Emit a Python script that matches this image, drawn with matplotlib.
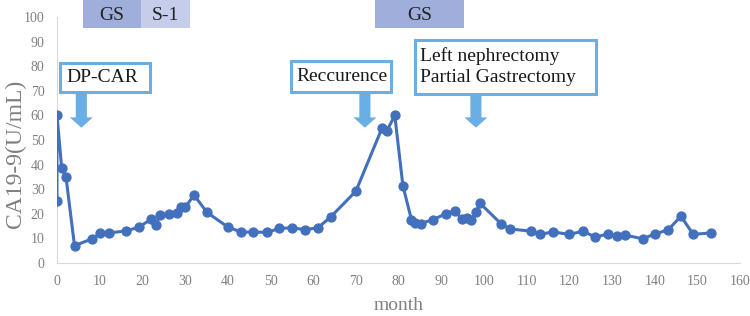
import numpy as np
import matplotlib.pyplot as plt
from matplotlib.patches import Rectangle, FancyArrow

plt.rcParams['font.family'] = ['Liberation Serif', 'DejaVu Serif']

# CA19-9 over time
months = [0, 0, 1.1, 2.1, 4.1, 8.2, 10.1, 12.1, 16.2, 19.1, 22.1, 23.2, 24.1, 26.2,
          28.2, 29.1, 30.0, 32.1, 35.1, 40.0, 43.2, 46.0, 49.1, 52.1, 55.0, 58.1,
          61.1, 64.1, 70.0, 76.1, 77.2, 79.1, 81.0, 83.0, 83.9, 85.2, 88.0, 91.1,
          93.1, 94.8, 96.1, 97.0, 98.1, 99.1, 104.0, 106.1, 111.1, 113.1, 116.1,
          120.0, 123.1, 126.1, 129.1, 131.1, 133.1, 137.2, 140.0, 143.1, 146.1,
          149.0, 153.1]
ca199 = [25, 60, 38.5, 35, 7, 9.8, 12, 12.2, 13, 14.5, 17.8, 15.5, 19.5, 20,
         20.3, 22.6, 22.6, 27.6, 20.6, 14.6, 12.5, 12.6, 12.4, 14, 14.3, 13.5,
         14.3, 18.7, 29.2, 54.8, 53.6, 60, 31.4, 17.6, 16.2, 16, 17.6, 20, 21.3,
         17.9, 18.4, 17.3, 20.6, 24.2, 15.9, 13.8, 12.9, 11.6, 12.6, 11.6, 12.9,
         10.5, 11.8, 10.8, 11.3, 9.8, 11.8, 13.4, 19, 11.6, 12.2]

# treatment bars at the top
therapy_start = [6.1, 19.7, 74.5]
therapy_end = [19.7, 31.1, 95.4]
therapy_label = ['GS', 'S-1', 'GS']
therapy_color = ['#a0aedb', '#c5cdea', '#a0aedb']

# events: label, box (x0, x1, y0, y1) in data units, arrow x
event_label = ['DP-CAR', 'Reccurence', 'Left nephrectomy\nPartial Gastrectomy']
event_box = [(0.8, 21.8, 69.5, 81.5), (54.7, 78.3, 69.5, 82.3), (83.8, 126.2, 68.8, 90.8)]
event_arrow_x = [5.7, 72.1, 98.1]

fig = plt.figure(figsize=(7.5, 3.16), dpi=100)
ax = fig.add_axes([0.076, 0.168, 0.911, 0.778])

ax.plot(months, ca199, color='#4270bd', lw=2.2, marker='o', ms=6.4, zorder=3)

ax.set_xlim(0, 160)
ax.set_ylim(0, 100)
ax.set_xticks(np.arange(0, 161, 10))
ax.set_yticks(np.arange(0, 101, 10))
for s in ['top', 'right']:
    ax.spines[s].set_visible(False)
for s in ['left', 'bottom']:
    ax.spines[s].set_color('#d9d9d9')
ax.tick_params(length=0, labelsize=10, colors='#808080')
ax.tick_params(axis='y', pad=9)
ax.tick_params(axis='x', pad=9)
ax.set_xlabel('month', fontsize=14, color='#808080')
ax.set_ylabel('CA19-9(U/mL)', fontsize=17, color='#808080')
ax.xaxis.set_label_coords(0.5, -0.14)
ax.yaxis.set_label_coords(-0.046, 0.443)

for x0, x1, lab, c in zip(therapy_start, therapy_end, therapy_label, therapy_color):
    ax.add_patch(Rectangle((x0, 95.5), x1 - x0, 12, facecolor=c, edgecolor='none',
                           clip_on=False, zorder=2))
    ax.text((x0 + x1) / 2, 100.8, lab, ha='center', va='center', fontsize=14,
            color='#222222', clip_on=False)

for lab, (x0, x1, y0, y1), xa in zip(event_label, event_box, event_arrow_x):
    ax.add_patch(Rectangle((x0, y0), x1 - x0, y1 - y0, facecolor='white',
                           edgecolor='#6aaee6', lw=2.2, zorder=4))
    ax.text(x0 + 1.3, (y0 + y1) / 2, lab, ha='left', va='center',
            fontsize=14, color='#1a1a1a', linespacing=1.35, zorder=5)
    ax.add_patch(FancyArrow(xa, y0, 0, -y0 + 55, width=2.6, head_width=5.4,
                            head_length=4.2, length_includes_head=True,
                            color='#6aaee6', lw=0, zorder=4))

fig.savefig('out.png', dpi=100)
